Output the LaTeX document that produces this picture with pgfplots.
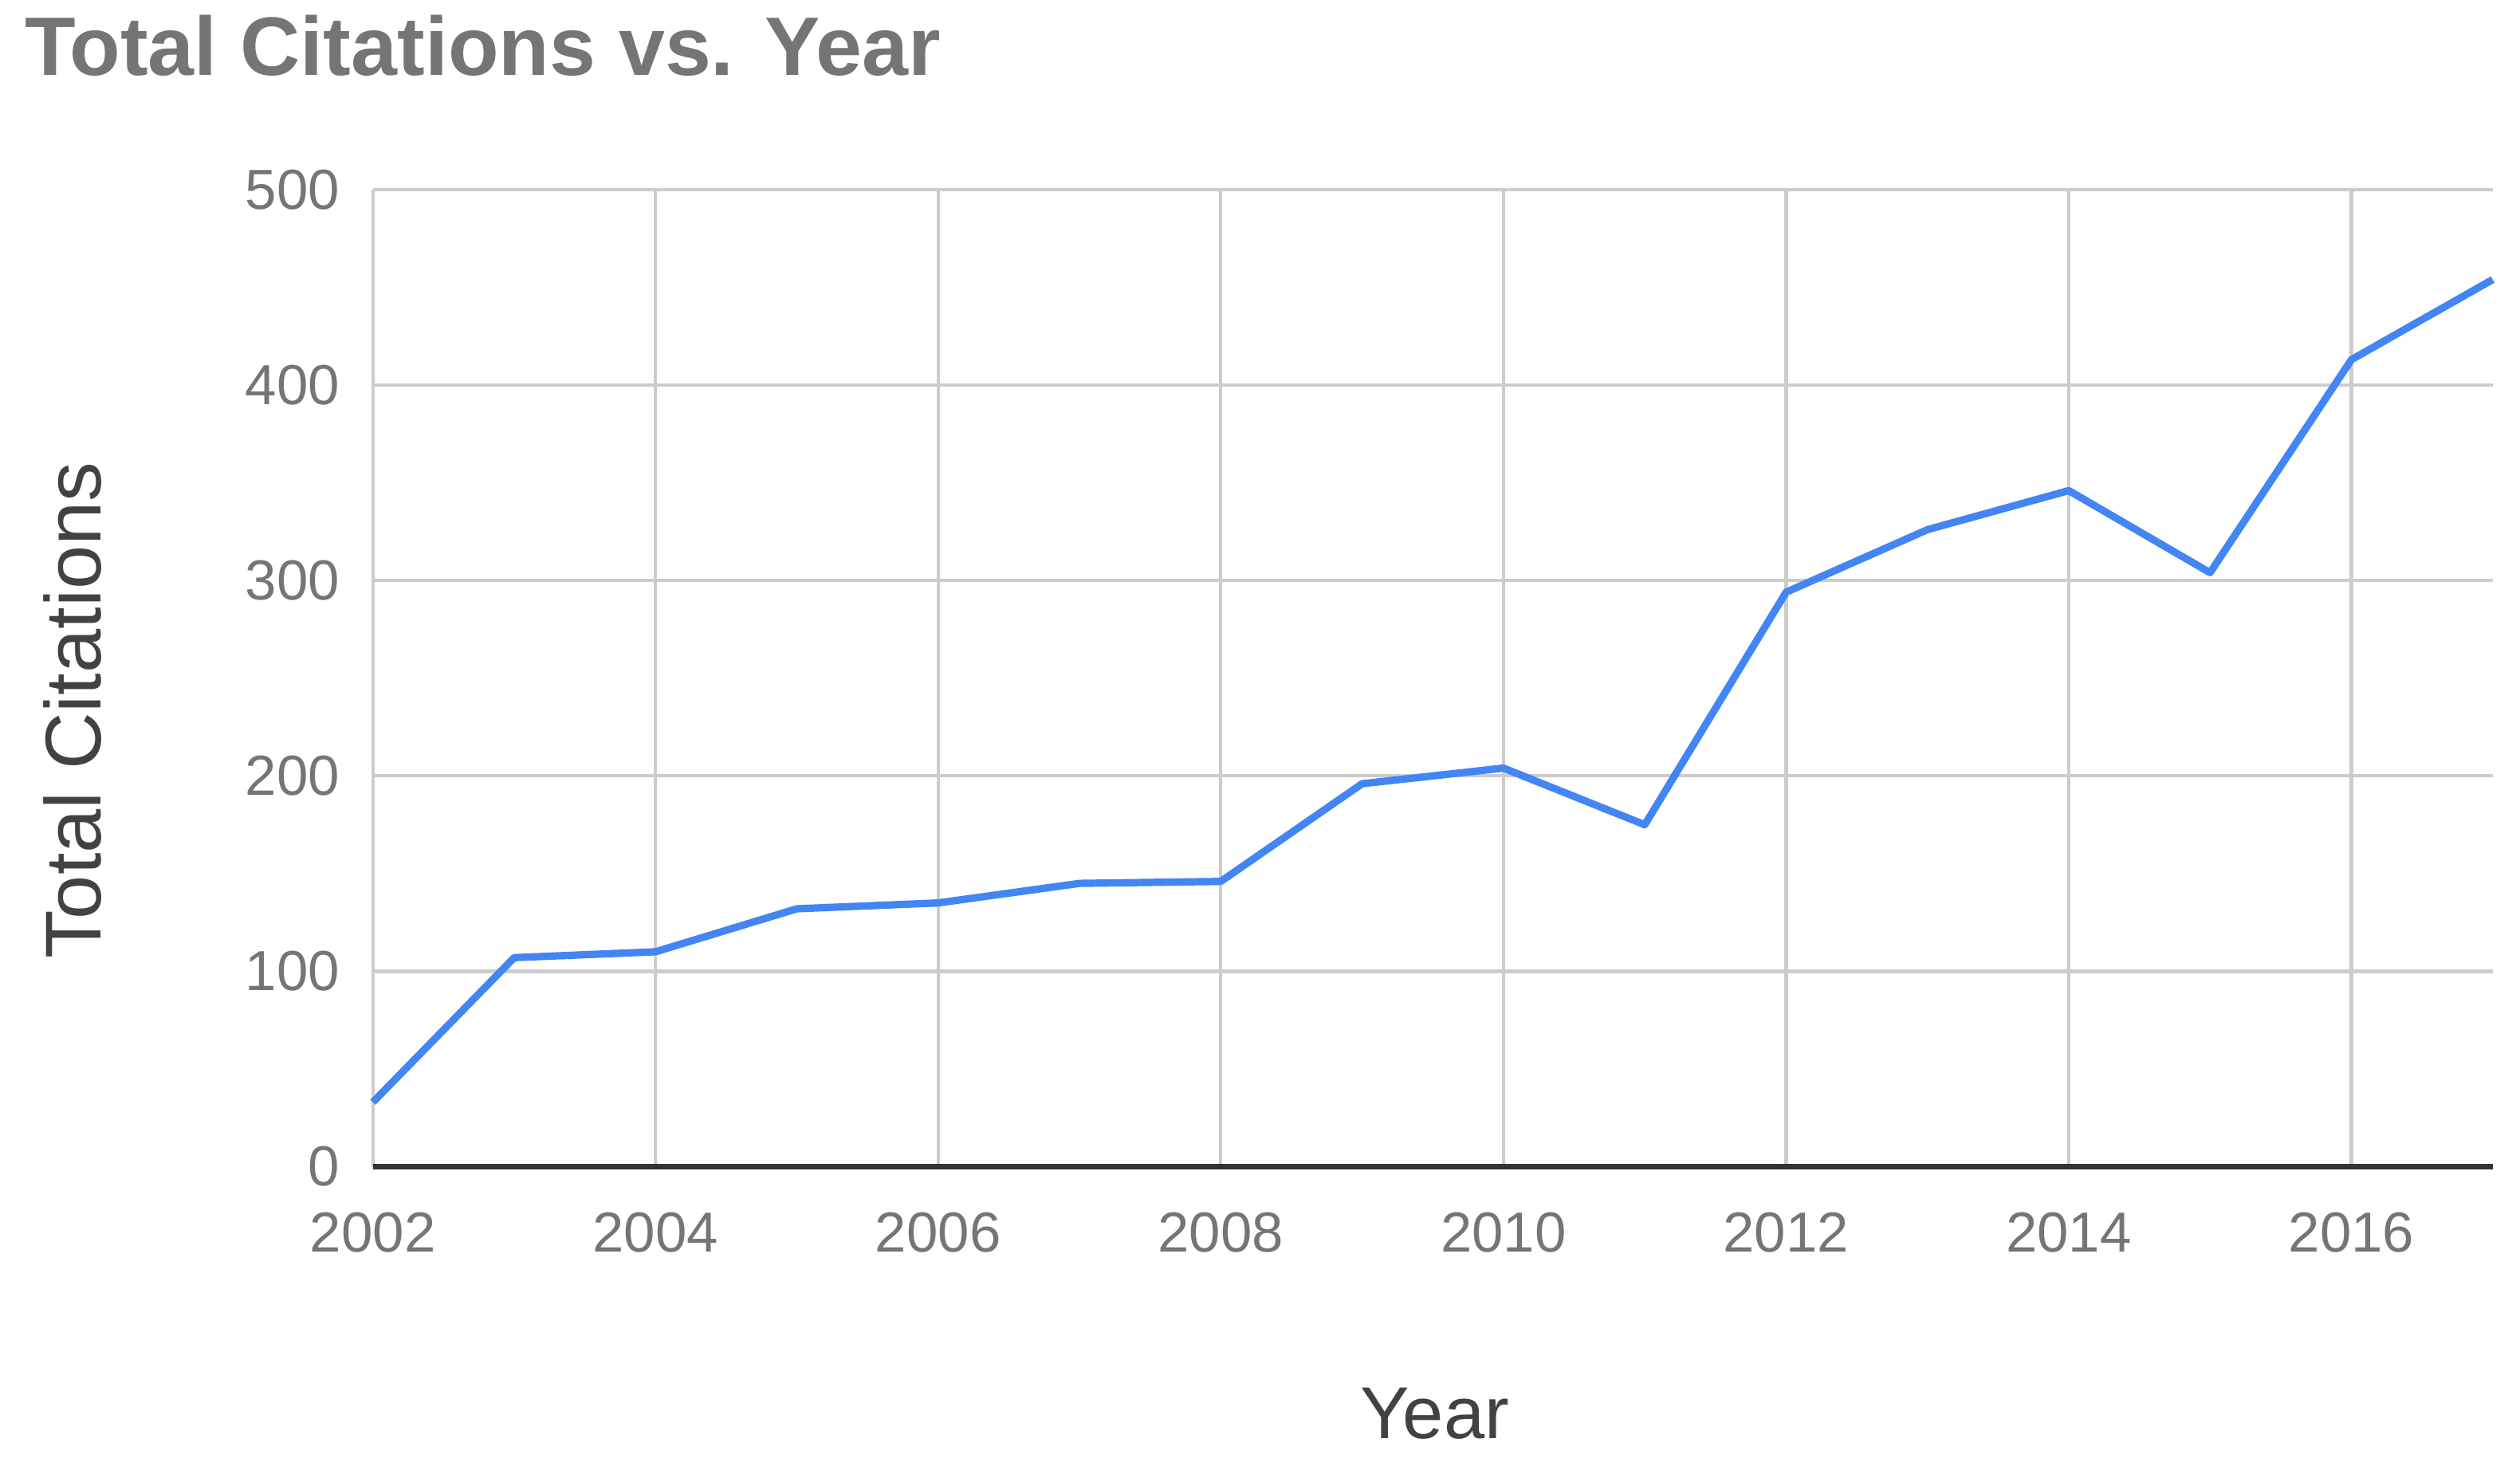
\documentclass[border=0pt]{standalone}
\usepackage{pgfplots}
\pgfplotsset{compat=1.18}
\usepackage{fontspec}
\setmainfont{Liberation Sans}

\definecolor{linecolor}{HTML}{4285F4}
\definecolor{gridcolor}{HTML}{CCCCCC}
\definecolor{tickcolor}{HTML}{757575}
\definecolor{labelcolor}{HTML}{424242}
\definecolor{basecolor}{HTML}{333333}

\begin{document}
\begin{tikzpicture}
\path[use as bounding box] (-2.32,-1.86) rectangle (13.36,7.26);
\begin{axis}[
    scale only axis,
    width=13.19cm,
    height=6.08cm,
    xmin=2002, xmax=2017,
    ymin=0, ymax=500,
    xtick={2002,2004,...,2016},
    ytick={0,100,...,500},
    x tick label style={/pgf/number format/1000 sep={}},
    /pgf/number format/assume math mode=true,
    major tick length=0pt,
    grid=major,
    grid style={gridcolor, line width=0.6pt},
    axis line style={draw=none},
    clip=false,
    tick label style={font=\fontsize{10}{12}\selectfont, text=tickcolor},
    xticklabel style={anchor=base, yshift=-0.53cm},
    yticklabel style={anchor=east, inner sep=0pt, xshift=-0.2cm},
    every axis x label/.style={at={(axis description cs:0.501,-0.278)}, anchor=base,
        font=\fontsize{13}{15}\selectfont, text=labelcolor},
    every axis y label/.style={at={(axis description cs:-0.1418,0.467)}, anchor=center, rotate=90,
        font=\fontsize{14}{16}\selectfont, text=labelcolor},
    xlabel={Year},
    ylabel={Total Citations},
]
\addplot[color=linecolor, line width=1.3pt, line join=round] coordinates {
    (2002, 33) (2003, 107) (2004, 110) (2005, 132) (2006, 135)
    (2007, 145) (2008, 146) (2009, 196) (2010, 204) (2011, 175)
    (2012, 294) (2013, 326) (2014, 346) (2015, 304) (2016, 413)
    (2017, 454)
};
% dark baseline at zero
\draw[basecolor, line width=0.9pt] (axis cs:2002,0) -- (axis cs:2017,0);
% chart title
\node[anchor=base west, inner sep=0pt, text=tickcolor,
      font=\fontsize{14.7}{18}\selectfont\bfseries]
  at (axis description cs:-0.1645,1.117) {Total Citations vs. Year};
\end{axis}
\end{tikzpicture}
\end{document}
